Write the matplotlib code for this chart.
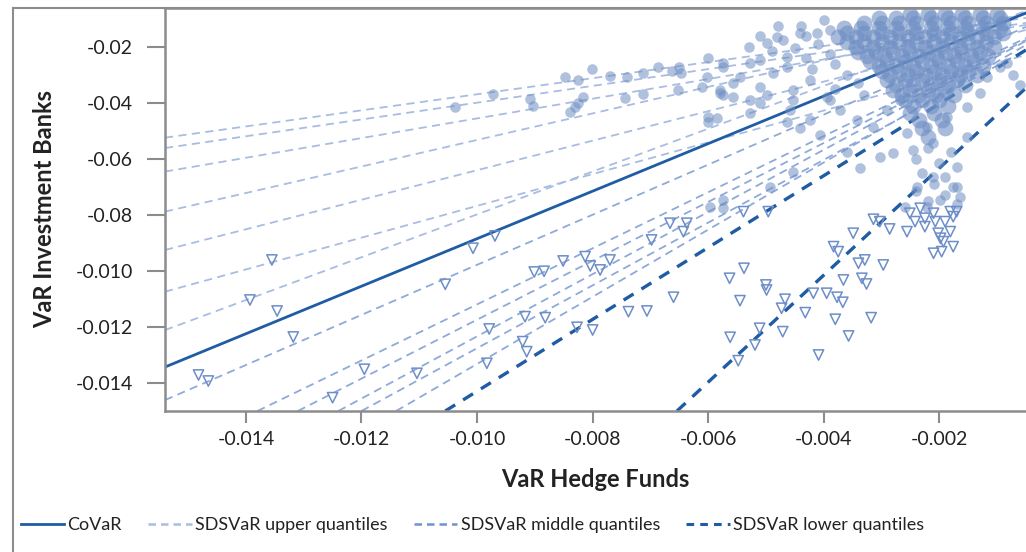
import matplotlib
matplotlib.use("Agg")
import matplotlib.pyplot as plt
from matplotlib.lines import Line2D

plt.rcParams['font.family'] = ['Lato', 'DejaVu Sans']

# VaR hedge funds (x) vs VaR investment banks (y)
# dense block of normal-times observations, row by row
core_rows = [
    (-0.0082, [-0.0025, -0.0022, -0.0019, -0.0016, -0.0013, -0.0010]),
    (-0.0098, [-0.00305, -0.00275, -0.00245, -0.00215, -0.00185, -0.00155, -0.00125, -0.00095]),
    (-0.0115, [-0.0033, -0.0030, -0.0027, -0.0024, -0.0021, -0.0018, -0.0015, -0.0012, -0.0009]),
    (-0.0132, [-0.00365, -0.00335, -0.00305, -0.00275, -0.00245, -0.00215, -0.00185, -0.00155, -0.00125, -0.00095]),
    (-0.0149, [-0.0036, -0.0033, -0.0030, -0.0027, -0.0024, -0.0021, -0.0018, -0.0015, -0.0012, -0.0009]),
    (-0.0166, [-0.00375, -0.00345, -0.00315, -0.00285, -0.00255, -0.00225, -0.00195, -0.00165, -0.00135, -0.00105]),
    (-0.0183, [-0.0036, -0.0033, -0.0030, -0.0027, -0.0024, -0.0021, -0.0018, -0.0015, -0.0012]),
    (-0.0200, [-0.00345, -0.00315, -0.00285, -0.00255, -0.00225, -0.00195, -0.00165, -0.00135, -0.00105]),
    (-0.0217, [-0.0034, -0.0031, -0.0028, -0.0025, -0.0022, -0.0019, -0.0016, -0.0013]),
    (-0.0234, [-0.00325, -0.00295, -0.00265, -0.00235, -0.00205, -0.00175, -0.00145, -0.00115]),
    (-0.0251, [-0.0032, -0.0029, -0.0026, -0.0023, -0.0020, -0.0017, -0.0014]),
    (-0.0268, [-0.00305, -0.00275, -0.00245, -0.00215, -0.00185, -0.00155, -0.00125]),
    (-0.0285, [-0.0030, -0.0027, -0.0024, -0.0021, -0.0018, -0.0015]),
    (-0.0302, [-0.00285, -0.00255, -0.00225, -0.00195, -0.00165, -0.00135]),
    (-0.0319, [-0.0029, -0.0026, -0.0023, -0.0020, -0.0017]),
    (-0.0336, [-0.00275, -0.00245, -0.00215, -0.00185, -0.00155]),
    (-0.0353, [-0.0028, -0.0025, -0.0022, -0.0019]),
    (-0.0370, [-0.00265, -0.00235, -0.00205, -0.00175]),
    (-0.0390, [-0.0026, -0.0023, -0.0020]),
    (-0.0410, [-0.00245, -0.00215, -0.00185]),
    (-0.0435, [-0.0025, -0.0021]),
    (-0.0460, [-0.00235, -0.00195]),
    (-0.0490, [-0.0023, -0.0019]),
    (-0.0520, [-0.0022]),
]

spread_pts = [
    (-0.0040, -0.0105), (-0.0044, -0.0125), (-0.0039, -0.0140), (-0.0043, -0.0160),
    (-0.0047, -0.0175), (-0.0041, -0.0190), (-0.0045, -0.0205), (-0.0039, -0.0225),
    (-0.0043, -0.0240), (-0.0038, -0.0260), (-0.0042, -0.0280), (-0.0036, -0.0300),
    (-0.0034, -0.0330), (-0.0038, -0.0350), (-0.0033, -0.0370), (-0.0048, -0.0125),
    (-0.0051, -0.0160), (-0.0053, -0.0200), (-0.0049, -0.0215),
    (-0.0022, -0.0560), (-0.0018, -0.0575), (-0.0024, -0.0600), (-0.0020, -0.0615),
    (-0.0017, -0.0630), (-0.0023, -0.0650), (-0.0019, -0.0665), (-0.0021, -0.0690),
    (-0.0017, -0.0700), (-0.0024, -0.0715), (-0.0019, -0.0730), (-0.0022, -0.0750),
    (-0.0017, -0.0760), (-0.0026, -0.0770),
    (-0.00579, -0.03536), (-0.00545, -0.03071), (-0.00498, -0.01857), (-0.00481, -0.01643),
    (-0.00441, -0.0150), (-0.00412, -0.0150), (-0.00464, -0.02357), (-0.00510, -0.02464),
    (-0.00527, -0.03893), (-0.00458, -0.0425), (-0.00424, -0.04607), (-0.00389, -0.03893),
    (-0.00406, -0.05143), (-0.00360, -0.0575), (-0.00337, -0.06321), (-0.00303, -0.05929),
    (-0.00280, -0.05786), (-0.00246, -0.05679), (-0.00211, -0.05429), (-0.00152, -0.05214),
    (-0.00239, -0.0700), (-0.00211, -0.06643), (-0.00199, -0.07464), (-0.00176, -0.0700),
    (-0.00164, -0.07357), (-0.00222, -0.07714), (-0.00095, -0.02714), (-0.00083, -0.02571),
    (-0.00072, -0.0300), (-0.00060, -0.03357), (-0.00597, -0.07714), (-0.00574, -0.07464),
    (-0.00574, -0.0775), (-0.00493, -0.0700), (-0.00453, -0.06464), (-0.00527, -0.04357),
    (-0.00510, -0.0400), (-0.00498, -0.03714), (-0.00453, -0.03893), (-0.00464, -0.04679),
    (-0.00441, -0.04893), (-0.00585, -0.04536), (-0.00574, -0.03714), (-0.00557, -0.03786),
    (-0.00831, -0.04143), (-0.00825, -0.0400), (-0.00816, -0.03786), (-0.00744, -0.03821),
    (-0.00712, -0.03679), (-0.00652, -0.03536), (-0.01038, -0.04143), (-0.00972, -0.03679),
    (-0.00908, -0.03857), (-0.00904, -0.04107), (-0.00847, -0.03071), (-0.00825, -0.03179),
    (-0.00801, -0.02786), (-0.00839, -0.04321), (-0.00770, -0.03036), (-0.00740, -0.03071),
    (-0.00712, -0.02929), (-0.00687, -0.02714), (-0.00662, -0.02857), (-0.00650, -0.02714),
    (-0.00647, -0.02929), (-0.00601, -0.02393), (-0.00610, -0.03429), (-0.00601, -0.0450),
    (-0.00601, -0.04679), (-0.00580, -0.03643), (-0.00574, -0.02571),
    (-0.00602, -0.03071), (-0.00574, -0.02714), (-0.00557, -0.03286), (-0.00527, -0.02571),
    (-0.00510, -0.03429), (-0.00488, -0.02929), (-0.00464, -0.02714), (-0.00453, -0.03536),
    (-0.00424, -0.03179), (-0.00395, -0.03786), (-0.00372, -0.0425), (-0.00343, -0.04607),
    (-0.00315, -0.04857), (-0.00291, -0.0425), (-0.00268, -0.03893), (-0.00256, -0.05071),
    (-0.00222, -0.04857), (-0.00187, -0.0450), (-0.00152, -0.04143), (-0.00130, -0.03643),
    (-0.00118, -0.03071),
]

# stress observations (hollow triangles)
stress_pts = [
    (-0.01355, -0.09607), (-0.01393, -0.11036), (-0.01346, -0.11429), (-0.01318, -0.12357),
    (-0.01482, -0.13714), (-0.01465, -0.13929), (-0.01250, -0.14525), (-0.01195, -0.13511),
    (-0.01104, -0.13654), (-0.01055, -0.10475), (-0.01007, -0.09189), (-0.00969, -0.0875),
    (-0.00983, -0.13296), (-0.00979, -0.12071), (-0.00917, -0.11632), (-0.00882, -0.11668),
    (-0.00921, -0.12525), (-0.00914, -0.12882), (-0.00901, -0.10036), (-0.00884, -0.10011),
    (-0.00851, -0.09643), (-0.00813, -0.09489), (-0.00804, -0.09821), (-0.00827, -0.12011),
    (-0.00800, -0.12107), (-0.00738, -0.11454), (-0.00706, -0.11429), (-0.00660, -0.10939),
    (-0.00770, -0.09607), (-0.00787, -0.09964), (-0.00698, -0.08893), (-0.00666, -0.08296),
    (-0.00637, -0.08296), (-0.00643, -0.08596), (-0.00539, -0.07882), (-0.00496, -0.07882),
    (-0.00538, -0.09904), (-0.00563, -0.10261), (-0.00500, -0.1050), (-0.00499, -0.10679),
    (-0.00545, -0.11061), (-0.00467, -0.11011), (-0.00473, -0.11332), (-0.00432, -0.11489),
    (-0.00418, -0.10796), (-0.00395, -0.10796), (-0.00377, -0.10939), (-0.00367, -0.11118),
    (-0.00380, -0.11725), (-0.00318, -0.11668), (-0.00357, -0.12321), (-0.00409, -0.1300),
    (-0.00471, -0.12168), (-0.00511, -0.12046), (-0.00519, -0.12643), (-0.00562, -0.12368),
    (-0.00548, -0.13204), (-0.00349, -0.08654), (-0.00383, -0.09132), (-0.00375, -0.09311),
    (-0.00340, -0.09725), (-0.00329, -0.09607), (-0.00297, -0.09786), (-0.00366, -0.10321),
    (-0.00334, -0.10261), (-0.00326, -0.10464), (-0.00314, -0.08154), (-0.00303, -0.08239),
    (-0.00286, -0.0850), (-0.00256, -0.08596), (-0.00251, -0.07939), (-0.00233, -0.07761),
    (-0.00242, -0.08239), (-0.00225, -0.08418), (-0.00225, -0.08118), (-0.00210, -0.07939),
    (-0.00207, -0.08239), (-0.00190, -0.08239), (-0.00181, -0.07882), (-0.00170, -0.07882),
    (-0.00176, -0.08061), (-0.00202, -0.08654), (-0.00181, -0.08596), (-0.00198, -0.08832),
    (-0.00193, -0.08954), (-0.00176, -0.09132), (-0.00210, -0.09368), (-0.00196, -0.09311),
]

# fitted lines: (x_start, y_start, x_end, y_end)
covar_line = (-0.0154, -0.1343, -0.0005, -0.00786)
upper_lines = [
    (-0.0154, -0.0524, -0.0005, -0.00964),
    (-0.0154, -0.0561, -0.0005, -0.01143),
    (-0.0154, -0.0645, -0.0005, -0.01214),
    (-0.0154, -0.0788, -0.0005, -0.00821),
    (-0.0154, -0.0925, -0.0005, -0.01393),
    (-0.0154, -0.1074, -0.0005, -0.02286),
    (-0.0154, -0.1211, -0.0005, -0.00714),
]
middle_lines = [
    (-0.0154, -0.1461, -0.0005, -0.01286),
    (-0.0138, -0.1500, -0.0005, -0.01679),
    (-0.0131, -0.1500, -0.0005, -0.01750),
    (-0.0124, -0.1500, -0.0005, -0.01786),
    (-0.0120, -0.1500, -0.0005, -0.02107),
    (-0.0114, -0.1500, -0.0005, -0.01929),
]
lower_lines = [
    (-0.01055, -0.1500, -0.0005, -0.02107),
    (-0.00654, -0.1500, -0.0005, -0.03464),
]

xticks = [-0.014, -0.012, -0.010, -0.008, -0.006, -0.004, -0.002]
xticklabels = ['-0.014', '-0.012', '-0.010', '-0.008', '-0.006', '-0.004', '-0.002']
yticks = [-0.02, -0.04, -0.06, -0.08, -0.10, -0.12, -0.14]
yticklabels = ['-0.02', '-0.04', '-0.06', '-0.08', '-0.010', '-0.012', '-0.014']

c_dark = '#1f5ca3'
c_mid = '#8eaad9'
c_light = '#a8bde1'
c_dot = '#6f8fc4'
c_tri = '#6d8ec8'
c_grey = '#8c8c8c'

fig = plt.figure(figsize=(10.26, 5.52), dpi=100)
ax = fig.add_axes([165 / 1026, 1 - 411 / 552, 1 - 165 / 1026, (411 - 8) / 552])

for x0, y0, x1, y1 in upper_lines:
    ax.plot([x0, x1], [y0, y1], color=c_light, lw=1.3, dashes=(4.5, 3), zorder=1)
for x0, y0, x1, y1 in middle_lines:
    ax.plot([x0, x1], [y0, y1], color=c_mid, lw=1.3, dashes=(4.5, 3), zorder=1)
for x0, y0, x1, y1 in lower_lines:
    ax.plot([x0, x1], [y0, y1], color=c_dark, lw=2.4, dashes=(3.5, 2.8), zorder=1)
ax.plot([covar_line[0], covar_line[2]], [covar_line[1], covar_line[3]], color=c_dark, lw=2, zorder=1)

# the packed core overlaps heavily, so its markers are drawn a bit larger
core_x = [x for y, xs in core_rows for x in xs]
core_y = [y for y, xs in core_rows for x in xs]
ax.scatter(core_x, core_y, s=130, color=c_dot, alpha=0.6, linewidths=0, zorder=2)
ax.scatter([p[0] for p in spread_pts], [p[1] for p in spread_pts], s=58, color=c_dot,
           alpha=0.55, linewidths=0, zorder=2)

ax.scatter([p[0] for p in stress_pts], [p[1] for p in stress_pts], marker='v', s=55,
           facecolors='none', edgecolors=c_tri, linewidths=1.1, zorder=3)

ax.set_xlim(-0.0154, -0.0005)
ax.set_ylim(-0.15, -0.0061)
ax.set_xticks(xticks)
ax.set_xticklabels(xticklabels)
ax.set_yticks(yticks)
ax.set_yticklabels(yticklabels)
ax.tick_params(axis='y', length=13, width=1.5, color=c_grey, pad=10, labelsize=14, labelcolor='#222222')
ax.tick_params(axis='x', length=8.5, width=1.5, color=c_grey, pad=6, labelsize=14, labelcolor='#222222')
for side in ['left', 'bottom', 'top']:
    ax.spines[side].set_color(c_grey)
    ax.spines[side].set_linewidth(1.8)
ax.spines['right'].set_visible(False)

ax.set_xlabel('VaR Hedge Funds', fontsize=17, fontweight='bold', color='#222222', labelpad=14)
ax.set_ylabel('VaR Investment Banks', fontsize=17, fontweight='bold', color='#222222', labelpad=14)

# outer frame on the left and top
fig.add_artist(Line2D([13 / 1026, 13 / 1026], [0, 1 - 8 / 552], color=c_grey, lw=1.5))
fig.add_artist(Line2D([13 / 1026, 1], [1 - 8 / 552, 1 - 8 / 552], color=c_grey, lw=1.5))

handles = [
    Line2D([], [], color=c_dark, lw=2),
    Line2D([], [], color=c_light, lw=1.8, dashes=(3, 2)),
    Line2D([], [], color='#6f93cc', lw=1.8, dashes=(3, 2)),
    Line2D([], [], color=c_dark, lw=2.2, dashes=(2.5, 2)),
]
labels = ['CoVaR', 'SDSVaR upper quantiles', 'SDSVaR middle quantiles', 'SDSVaR lower quantiles']
fig.legend(handles, labels, loc='center left', bbox_to_anchor=(0.013, 0.049), ncol=4,
           frameon=False, fontsize=13, handlelength=2.4, handletextpad=0.2,
           columnspacing=1.45, borderaxespad=0, labelcolor='#222222')

fig.savefig('out.png', dpi=100)
